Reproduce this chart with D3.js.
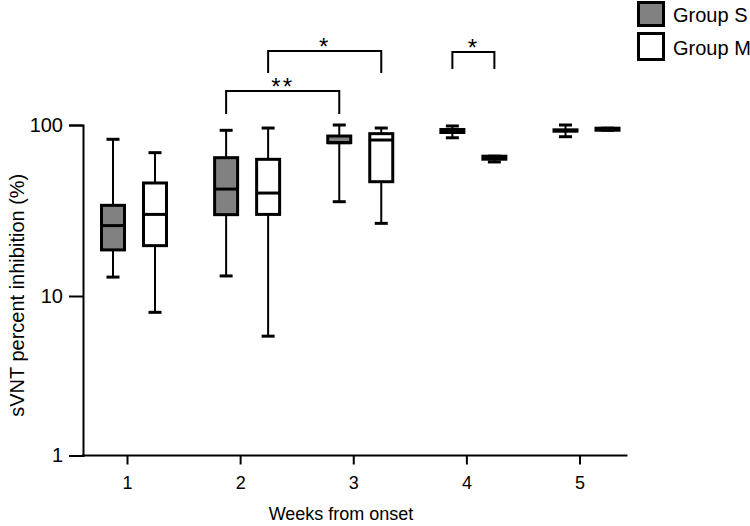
<!DOCTYPE html>
<html><head><meta charset="utf-8">
<script src="https://cdn.jsdelivr.net/npm/d3@7"></script>
<style>body{margin:0;background:#fff} svg{display:block}</style>
</head><body><svg id="c" width="750" height="526"></svg>
<script>
// ---- data ----
const weeks = [1, 2, 3, 4, 5];
const groups = ["Group S", "Group M"];
// five-number summaries per week: [min, q1, median, q3, max]
const groupS = [
  [12.9, 18.6, 25.8, 33.9, 82.5],
  [13.1, 29.9, 42.2, 64.4, 93.1],
  [35.6, 78.8, 78.8, 86.2, 100],
  [84.2, 90.4, 92.2, 94.1, 98.7],
  [85.4, 92.0, 92.8, 93.7, 100]
];
const groupM = [
  [7.9, 19.7, 30.0, 45.8, 68.9],
  [5.6, 30.0, 40.0, 63.0, 96.0],
  [26.6, 46.6, 81.7, 89.0, 96.0],
  [60.8, 63.1, 64.4, 65.7, 65.7],
  [93.2, 93.2, 94.5, 95.8, 95.8]
];
const yTicks = [1, 10, 100];
const yTitle = "sVNT percent inhibition (%)";
const xTitle = "Weeks from onset";
// significance comparisons: [week, groupIndex]
const comparisons = [
  {a: [2, 0], b: [3, 0], label: "**"},
  {a: [2, 1], b: [3, 1], label: "*"},
  {a: [4, 0], b: [4, 1], label: "*"}
];

// ---- drawing ----
const svg = d3.select("#c");
const font = "'Liberation Sans', Arial, sans-serif";
const y = d3.scaleLog().domain([1, 10, 100]).range([455.5, 296, 125]);
const x = d3.scaleLinear().domain([1, 5]).range([134, 586.5]);
const axisX = 83;
const offs = [-21, 21];
const fills = ["#818181", "#ffffff"];
const series = [groupS, groupM];
const boxW = 23, capW = 13;

// y axis
const gy = svg.append("g").attr("transform", `translate(${axisX},0)`)
  .call(d3.axisLeft(y).tickValues(yTicks).tickSize(14).tickSizeOuter(14).tickPadding(6).tickFormat(d3.format("d")));
gy.select(".domain").attr("stroke-width", 2);
gy.selectAll(".tick line").attr("stroke-width", 2);
gy.selectAll("text").attr("font-family", font).attr("font-size", 20).attr("fill", "#000");

// x axis
svg.append("line").attr("x1", axisX - 1).attr("x2", x(5) + 41)
  .attr("y1", y(1)).attr("y2", y(1)).attr("stroke", "#000").attr("stroke-width", 2);
const gx = svg.append("g").attr("transform", `translate(-7,${y(1)})`)
  .call(d3.axisBottom(x).tickValues(weeks).tickSize(9).tickPadding(12).tickFormat(d3.format("d")));
gx.select(".domain").remove();
gx.selectAll(".tick line").attr("stroke-width", 2);
gx.selectAll("text").attr("font-family", font).attr("font-size", 18).attr("fill", "#000");

// titles
svg.append("text").attr("transform", "rotate(-90)").attr("x", -(y(1) + y(100)) / 2 - 5).attr("y", 24)
  .attr("text-anchor", "middle").attr("font-family", font).attr("font-size", 20).text(yTitle);
svg.append("text").attr("x", 341).attr("y", 520).attr("text-anchor", "middle")
  .attr("font-family", font).attr("font-size", 18).text(xTitle);

// boxes
series.forEach((data, gi) => {
  const sel = svg.append("g").selectAll("g")
    .data(data.map((s, i) => ({week: weeks[i], s})))
    .join("g")
    .attr("transform", d => `translate(${x(d.week) + offs[gi]},0)`);
  sel.append("line").attr("x1", 0).attr("x2", 0)
    .attr("y1", d => y(d.s[0])).attr("y2", d => y(d.s[4]))
    .attr("stroke", "#000").attr("stroke-width", 2);
  [0, 4].forEach(k => {
    sel.append("line").attr("x1", -capW / 2).attr("x2", capW / 2)
      .attr("y1", d => y(d.s[k])).attr("y2", d => y(d.s[k]))
      .attr("stroke", "#000").attr("stroke-width", 3);
  });
  sel.append("rect").attr("x", -boxW / 2).attr("width", boxW)
    .attr("y", d => y(d.s[3])).attr("height", d => y(d.s[1]) - y(d.s[3]))
    .attr("fill", fills[gi]).attr("stroke", "#000").attr("stroke-width", 3);
  sel.append("line").attr("x1", -boxW / 2).attr("x2", boxW / 2)
    .attr("y1", d => y(d.s[2])).attr("y2", d => y(d.s[2]))
    .attr("stroke", "#000").attr("stroke-width", 3);
});

// significance brackets
const bracketTop = [91, 51, 52];
const bracketLeg = [23, 22, 17];
comparisons.forEach((c, i) => {
  const xa = x(c.a[0]) + offs[c.a[1]];
  const xb = x(c.b[0]) + offs[c.b[1]];
  const t = bracketTop[i], b = t + bracketLeg[i];
  svg.append("path").attr("d", `M${xa},${b}V${t}H${xb}V${b}`)
    .attr("fill", "none").attr("stroke", "#000").attr("stroke-width", 2);
  svg.append("text").attr("x", (xa + xb) / 2).attr("y", t + 4)
    .attr("text-anchor", "middle").attr("font-family", font).attr("font-size", 24)
    .attr("letter-spacing", 2).text(c.label);
});

// legend
const lg = svg.append("g").selectAll("g").data(groups).join("g")
  .attr("transform", (d, i) => `translate(638.5,${i === 0 ? 2.5 : 33.5})`);
lg.append("rect").attr("width", 25).attr("height", (d, i) => i === 0 ? 23 : 26)
  .attr("fill", (d, i) => fills[i]).attr("stroke", "#000").attr("stroke-width", 3);
lg.append("text").attr("x", 34.5).attr("y", (d, i) => i === 0 ? 19 : 21.5)
  .attr("font-family", font).attr("font-size", 20).text(d => d);
</script>
</body></html>
